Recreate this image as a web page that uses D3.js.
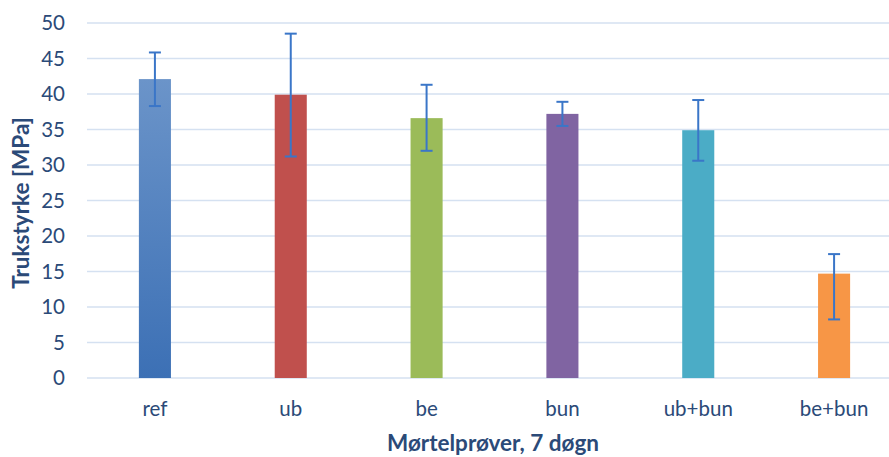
<!DOCTYPE html>
<html><head><meta charset="utf-8">
<script src="https://cdn.jsdelivr.net/npm/d3@7"></script>
<style>body{margin:0;background:#fff}svg{display:block}text{font-family:Lato,"Open Sans",sans-serif}</style>
</head><body><svg id="c" width="889" height="457"></svg>
<script>
const categories = ["ref","ub","be","bun","ub+bun","be+bun"];
const values = [42.1, 39.9, 36.6, 37.2, 34.9, 14.7];
const errUp = [3.75, 8.6, 4.7, 1.7, 4.25, 2.75];
const errDown = [3.8, 8.7, 4.6, 1.7, 4.3, 6.45];
const colors = ["#4f81bd","#c0504d","#9bbb59","#8064a2","#4bacc6","#f79646"];
const yTicks = [0,5,10,15,20,25,30,35,40,45,50];
const yTitle = "Trukstyrke [MPa]";
const xTitle = "Mørtelprøver, 7 døgn";

(function(){
const svg = d3.select("#c");
const pL = 87, pR = 902, pT = 23, pB = 378;
const x = d3.scaleBand().domain(categories).range([pL, pR]).paddingInner(0.764).paddingOuter(0.382);
const y = d3.scaleLinear().domain([0, 50]).range([pB, pT]);
const textCol = "#2b4a78";

const defs = svg.append("defs");
const g0 = defs.append("linearGradient").attr("id","g0").attr("x1",0).attr("y1",0).attr("x2",0).attr("y2",1);
g0.append("stop").attr("offset","0%").attr("stop-color","#6b94c9");
g0.append("stop").attr("offset","100%").attr("stop-color","#3c70b5");

svg.append("g").selectAll("line").data(yTicks).join("line")
  .attr("x1", pL).attr("x2", pR).attr("y1", d => y(d)).attr("y2", d => y(d))
  .attr("stroke", "#d5e1f1").attr("stroke-width", 1.5);

const yAxis = svg.append("g").attr("transform", `translate(${pL},0)`)
  .call(d3.axisLeft(y).tickValues(yTicks).tickSize(0).tickPadding(22));
yAxis.select(".domain").remove();
yAxis.selectAll("text").attr("fill", textCol).attr("font-size", 20.5).attr("font-family","Lato,sans-serif");

svg.append("g").selectAll("rect").data(categories).join("rect")
  .attr("x", d => x(d)).attr("width", x.bandwidth())
  .attr("y", (d,i) => y(values[i])).attr("height", (d,i) => y(0) - y(values[i]))
  .attr("fill", (d,i) => i === 0 ? "url(#g0)" : colors[i]);

const eb = svg.append("g").attr("stroke", "#3a76c8").attr("stroke-width", 2);
categories.forEach((c,i) => {
  const cx = x(c) + x.bandwidth()/2;
  const hi = y(values[i] + errUp[i]), lo = y(values[i] - errDown[i]);
  eb.append("line").attr("x1", cx).attr("x2", cx).attr("y1", hi).attr("y2", lo);
  eb.append("line").attr("x1", cx-6).attr("x2", cx+6).attr("y1", hi).attr("y2", hi);
  eb.append("line").attr("x1", cx-6).attr("x2", cx+6).attr("y1", lo).attr("y2", lo);
});

const xAxis = svg.append("g").attr("transform", `translate(0,${pB})`)
  .call(d3.axisBottom(x).tickSize(0).tickPadding(23));
xAxis.select(".domain").remove();
xAxis.selectAll("text").attr("fill", textCol).attr("font-size", 20.5).attr("font-family","Lato,sans-serif");

svg.append("text").attr("x", 493).attr("y", 451).attr("text-anchor","middle")
  .attr("fill", textCol).attr("font-size", 22.5).attr("font-weight","bold").text(xTitle);
svg.append("text").attr("transform", `translate(29,203) rotate(-90)`).attr("text-anchor","middle")
  .attr("fill", textCol).attr("font-size", 22.5).attr("font-weight","bold").text(yTitle);
})();
</script></body></html>
